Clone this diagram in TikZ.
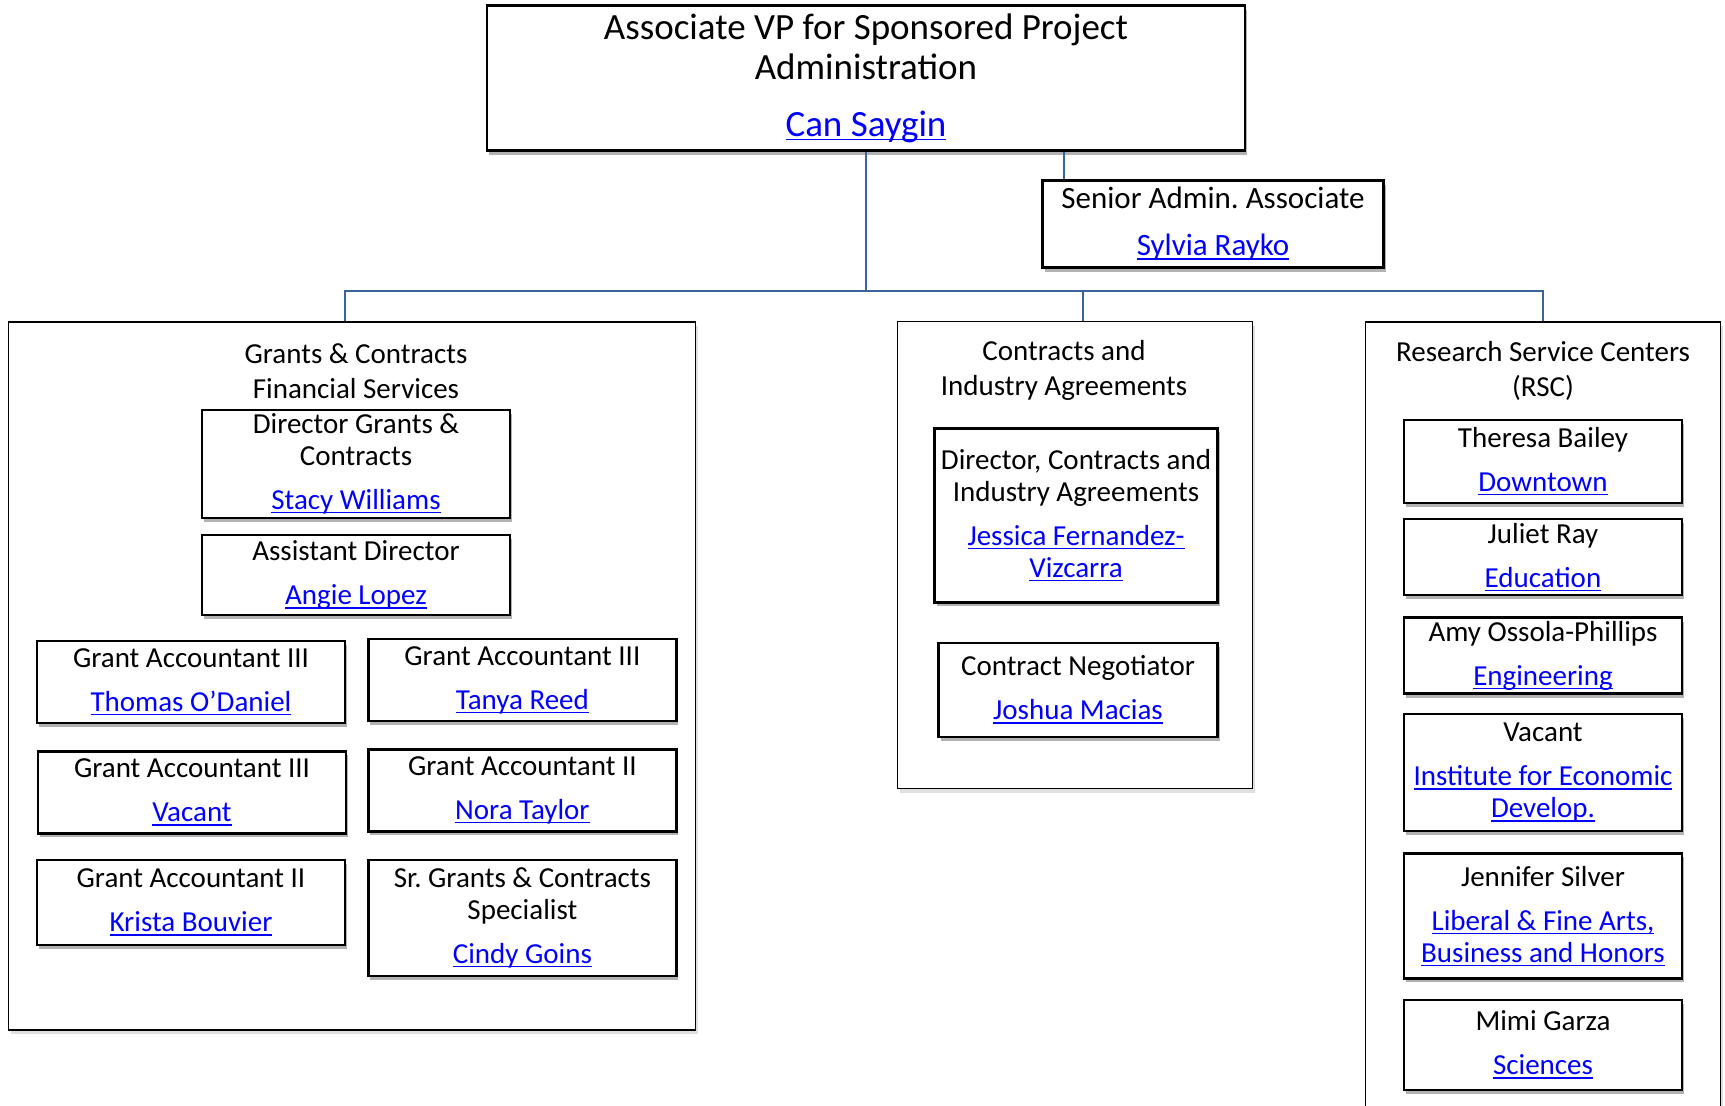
\documentclass[tikz,border=0pt]{standalone}
\usepackage{fontspec}
\setmainfont{Carlito}
\usetikzlibrary{positioning, shadows}
\frenchspacing

\definecolor{linkblue}{RGB}{0,0,255}
\definecolor{orgblue}{RGB}{58,100,155}
\newsavebox{\lnkbox}
\newcommand{\lnk}[1]{\textcolor{linkblue}{\sbox{\lnkbox}{#1}\rlap{\rule[-4pt]{\wd\lnkbox}{1.5pt}}\usebox{\lnkbox}}}

\begin{document}
\begin{tikzpicture}[x=1pt, y=-1pt,
  orgbox/.style={draw, fill=white, line width=2.4pt, rectangle, align=center, inner sep=2pt, font=\fontsize{29}{32}\selectfont, drop shadow={shadow xshift=2pt, shadow yshift=-4pt, opacity=0.3, fill=black}},
  groupbox/.style={draw, fill=white, line width=1.8pt, rectangle, inner sep=0pt, drop shadow={shadow xshift=2pt, shadow yshift=-4pt, opacity=0.12, fill=black}},
  grouptitle/.style={align=center, inner sep=0pt, font=\fontsize{29}{35}\selectfont},
  orgline/.style={draw=orgblue, line width=2.8pt}]

  \useasboundingbox (0,0) rectangle (1725,1106);

  % top level
  \node[orgbox, minimum width=758pt, minimum height=145pt, font=\fontsize{37}{40}\selectfont] (avp) at (866,78) {Associate VP for Sponsored Project\\Administration\\[17pt]\lnk{Can Saygin}};
  \node[orgbox, minimum width=341pt, minimum height=87pt, font=\fontsize{31}{35}\selectfont] (sraa) at (1213,224) {Senior Admin. Associate\\[12pt]\lnk{Sylvia Rayko}};

  % groups
  \node[groupbox, minimum width=687pt, minimum height=708pt] (gcfs) at (352,676) {};
  \node[groupbox, minimum width=355pt, minimum height=467pt] (cia) at (1075,555) {};
  \node[groupbox, minimum width=355pt, minimum height=790pt] (rsc) at (1543,717) {};

  \node[grouptitle, below=22pt of gcfs.north, xshift=4pt] (gcfstitle) {Grants \& Contracts\\Financial Services};
  \node[grouptitle, below=20pt of cia.north, xshift=-11pt] (ciatitle) {Contracts and\\Industry Agreements};
  \node[grouptitle, below=20pt of rsc.north] (rsctitle) {Research Service Centers\\(RSC)};

  % grants & contracts
  \node[orgbox, minimum width=308pt, minimum height=108pt, below=10pt of gcfstitle] (gdir) {Director Grants \&\\Contracts\\[12pt]\lnk{Stacy Williams}};
  \node[orgbox, minimum width=308pt, minimum height=80pt, below=15pt of gdir] (gasst) {Assistant Director\\[12pt]\lnk{Angie Lopez}};
  \node[orgbox, minimum width=308pt, minimum height=82pt] (ga1) at (191,682) {Grant Accountant III\\[12pt]\lnk{Thomas O’Daniel}};
  \node[orgbox, minimum width=308pt, minimum height=82pt, right=21pt of ga1, yshift=2pt] (ga2) {Grant Accountant III\\[12pt]\lnk{Tanya Reed}};
  \node[orgbox, minimum width=308pt, minimum height=82pt, below=26pt of ga1, xshift=1pt] (ga3) {Grant Accountant III\\[12pt]\lnk{Vacant}};
  \node[orgbox, minimum width=308pt, minimum height=82pt, below=26pt of ga2] (ga4) {Grant Accountant II\\[12pt]\lnk{Nora Taylor}};
  \node[orgbox, minimum width=308pt, minimum height=85pt, below=24pt of ga3, xshift=-1pt] (ga5) {Grant Accountant II\\[12pt]\lnk{Krista Bouvier}};
  \node[orgbox, minimum width=308pt, minimum height=116pt, below=26pt of ga4] (gspec) {Sr. Grants \& Contracts\\Specialist\\[12pt]\lnk{Cindy Goins}};

  % contracts and industry agreements
  \node[orgbox, minimum width=283pt, minimum height=174pt, below=26pt of ciatitle, xshift=12pt] (cdir) {Director, Contracts and\\Industry Agreements\\[12pt]\lnk{Jessica Fernandez-}\\\lnk{Vizcarra}};
  \node[orgbox, minimum width=279pt, minimum height=94pt, below=38pt of cdir, xshift=2pt] (cneg) {Contract Negotiator\\[12pt]\lnk{Joshua Macias}};

  % research service centers
  \node[orgbox, minimum width=278pt, minimum height=83pt, below=18pt of rsctitle] (rsc1) {Theresa Bailey\\[12pt]\lnk{Downtown}};
  \node[orgbox, minimum width=278pt, minimum height=76pt, below=14pt of rsc1] (rsc2) {Juliet Ray\\[12pt]\lnk{Education}};
  \node[orgbox, minimum width=278pt, minimum height=76pt, below=20pt of rsc2] (rsc3) {Amy Ossola-Phillips\\[12pt]\lnk{Engineering}};
  \node[orgbox, minimum width=278pt, minimum height=117pt, below=18pt of rsc3] (rsc4) {Vacant\\[12pt]\lnk{Institute for Economic}\\\lnk{Develop.}};
  \node[orgbox, minimum width=278pt, minimum height=125pt, below=20pt of rsc4] (rsc5) {Jennifer Silver\\[12pt]\lnk{Liberal \& Fine Arts,}\\\lnk{Business and Honors}};
  \node[orgbox, minimum width=278pt, minimum height=90pt, below=19pt of rsc5] (rsc6) {Mimi Garza\\[12pt]\lnk{Sciences}};

  % connectors
  \coordinate (bus) at (866,291);
  \coordinate (gcfstop) at ([xshift=-7pt]gcfs.north);
  \coordinate (ciatop) at ([xshift=8pt]cia.north);
  \coordinate (sraatop) at ([xshift=-149pt]sraa.north);
  \draw[orgline] (avp) -- (bus);
  \draw[orgline] (gcfstop) |- (bus) -| (rsc.north);
  \draw[orgline] (ciatop) -- (ciatop |- bus);
  \draw[orgline] (sraatop) -- (sraatop |- avp.south);
\end{tikzpicture}
\end{document}
